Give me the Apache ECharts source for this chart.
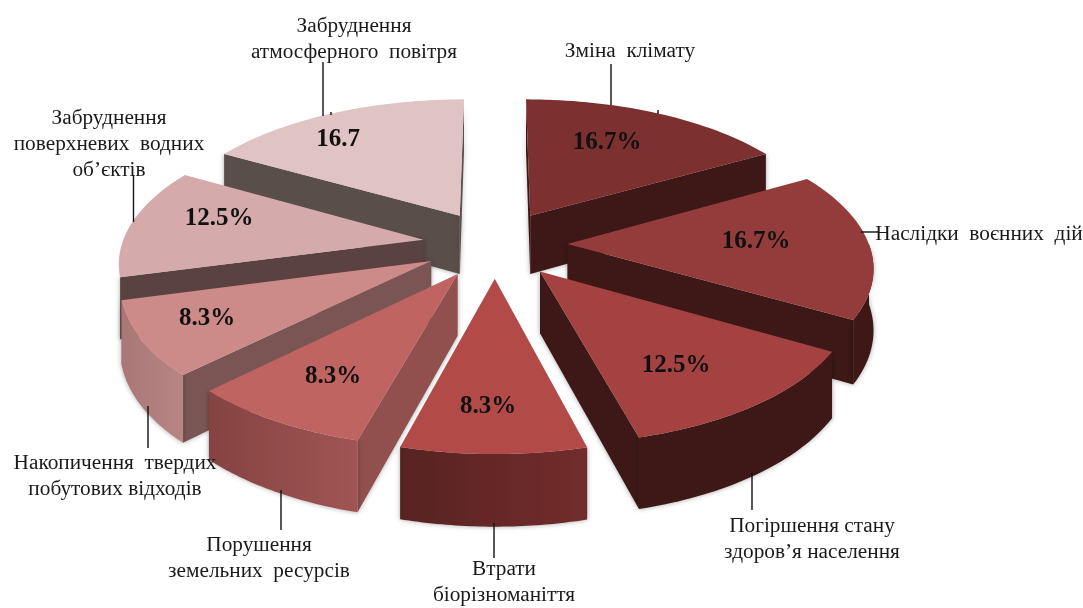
<!DOCTYPE html>
<html>
<head>
<meta charset="utf-8">
<style>
  html, body { margin: 0; background: #fff; }
  #chart { width: 1083px; height: 608px; }
</style>
</head>
<body>
<div id="chart"></div>
<script src="https://cdn.jsdelivr.net/npm/echarts@6/dist/echarts.min.js"></script>
<script>
const categories = [
  'Зміна  клімату',
  'Наслідки  воєнних  дій',
  'Погіршення стану\nздоров’я населення',
  'Втрати\nбіорізноманіття',
  'Порушення\nземельних  ресурсів',
  'Накопичення  твердих\nпобутових відходів',
  'Забруднення\nповерхневих  водних\nоб’єктів',
  'Забруднення\nатмосферного  повітря',
];
const values = [16.7, 16.7, 12.5, 8.3, 8.3, 8.3, 12.5, 16.7];
const valueLabels = ['16.7%', '16.7%', '12.5%', '8.3%', '8.3%', '8.3%', '12.5%', '16.7'];

// кольори секторів: верх, радіальні стінки, зовнішня стінка (зліва, справа)
const topColors = ['#7c3030', '#943c3b', '#a34241', '#b24b48', '#c06462', '#cc8b89', '#d4abaa', '#e0c3c3'];
const faceColors = ['#3d1816', '#3d1816', '#3d1816', '#3d1816', '#91504e', '#7a5554', '#5a4240', '#5a4e4b'];
const wallFrom = ['#3d1816', '#3d1816', '#3d1816', '#722c2b', '#a05554', '#b88583', null, null];
const wallTo = ['#3d1816', '#3d1816', '#3d1816', '#572322', '#854341', '#a87776', null, null];

// розташування підписів на сторінці (центр першого рядка)
const namePos = [[630, 51], [979, 234], [812, 526], [504, 569], [259, 545], [115, 463], [109, 118], [354, 26]];
const percentPos = [[607, 143], [756, 242], [676, 366], [488, 407], [333, 377], [207, 319], [219, 219], [338, 140]];
const leaders = [
  [[611, 64], [611, 105]],
  [[861, 232], [878, 232]],
  [[752, 473], [752, 510]],
  [[494, 523], [494, 558]],
  [[281, 490], [281, 530]],
  [[148, 406], [148, 448]],
  [[133.5, 175], [133.5, 222]],
  [[323, 62], [323, 116]],
  [[658, 110], [658, 114]],
  [[331, 112], [331, 115]],
];

// параметри перспективи
const CX = 495, CY = 244, RX = 301.5, RY = 140, PERSP = 0.14, EXPLODE = 0.24, DEPTH = 60;

const total = values.reduce((a, b) => a + b, 0);
const starts = [];
values.reduce((acc, v, i) => { starts[i] = acc; return acc + v / total * Math.PI * 2; }, 0);

function project(x, f, down) {
  const w = 1 - PERSP * f;
  return [CX + RX * x / w, CY + RY * f / w + (down ? DEPTH / w : 0)];
}

function renderWedge(params, api) {
  const i = api.value(0);
  const a = starts[i];
  const b = a + api.value(1) / total * Math.PI * 2;
  const mid = (a + b) / 2;
  const ox = EXPLODE * Math.sin(mid), of = -EXPLODE * Math.cos(mid);
  const pt = (t, down) => project(ox + Math.sin(t), of - Math.cos(t), down);
  const apex = project(ox, of, false);
  const apexDown = project(ox, of, true);

  const arc = [];
  for (let s = 0; s <= 40; s++) arc.push(a + (b - a) * s / 40);
  const topPts = [apex].concat(arc.map((t) => pt(t, false)));
  const midTop = pt(mid, false);
  const inner = [(apex[0] + midTop[0]) / 2, (apex[1] + midTop[1]) / 2];
  const children = [];
  const shadow = { shadowBlur: 5, shadowColor: 'rgba(0,0,0,0.35)' };

  // радіальна стінка видима, лише якщо сектор лежить вище за неї на екрані
  [a, b].forEach((t) => {
    const q = pt(t, false);
    const dx = q[0] - apex[0], dy = q[1] - apex[1];
    const side = dx * (inner[1] - apex[1]) - dy * (inner[0] - apex[0]);
    if (side * dx < 0) {
      children.push({
        type: 'polygon',
        shape: { points: [apex, q, pt(t, true), apexDown] },
        style: Object.assign({ fill: faceColors[i] }, shadow),
      });
    }
  });

  // зовнішня стінка - частина дуги, повернута до глядача
  const front = arc.filter((t) => Math.cos(t) < 0);
  if (front.length > 1 && wallFrom[i]) {
    const upper = front.map((t) => pt(t, false));
    const lower = front.map((t) => pt(t, true)).reverse();
    const xs = upper.map((p) => p[0]);
    children.push({
      type: 'polygon',
      shape: { points: upper.concat(lower) },
      style: Object.assign({
        fill: new echarts.graphic.LinearGradient(Math.min.apply(null, xs), 0, Math.max.apply(null, xs), 0, [
          { offset: 0, color: xs[0] < xs[xs.length - 1] ? wallFrom[i] : wallTo[i] },
          { offset: 1, color: xs[0] < xs[xs.length - 1] ? wallTo[i] : wallFrom[i] },
        ], true),
      }, shadow),
    });
  }

  children.push({ type: 'polygon', shape: { points: topPts }, style: { fill: topColors[i] } });
  return { type: 'group', children: children };
}

// малюємо від дальніх секторів до ближніх
const drawOrder = values
  .map((v, i) => [i, v])
  .sort((p, q) => {
    const mp = starts[p[0]] + p[1] / total * Math.PI;
    const mq = starts[q[0]] + q[1] / total * Math.PI;
    return Math.cos(mq) - Math.cos(mp);
  });

const serif = '"Liberation Serif", "Times New Roman", serif';
const LINE_H = 26;
const graphics = [];
leaders.forEach((l) => {
  graphics.push({
    type: 'line', z: 20,
    shape: { x1: l[0][0], y1: l[0][1], x2: l[1][0], y2: l[1][1] },
    style: { stroke: '#111', lineWidth: 1.4 },
  });
});
categories.forEach((name, i) => {
  graphics.push({
    type: 'text', z: 21, x: namePos[i][0], y: namePos[i][1] - LINE_H / 2,
    style: {
      text: name, fill: '#1a1a1a', font: '21.3px ' + serif, lineHeight: LINE_H,
      align: 'center', verticalAlign: 'top',
    },
  });
});
valueLabels.forEach((txt, i) => {
  graphics.push({
    type: 'text', z: 22, x: percentPos[i][0], y: percentPos[i][1],
    style: {
      text: txt, fill: '#111', font: 'bold 25px ' + serif,
      align: 'center', verticalAlign: 'middle',
    },
  });
});

const myChart = echarts.init(document.getElementById('chart'), null, { renderer: 'canvas' });
myChart.setOption({
  animation: false,
  backgroundColor: '#fff',
  graphic: graphics,
  series: [{
    type: 'custom',
    coordinateSystem: 'none',
    renderItem: renderWedge,
    data: drawOrder,
    silent: true,
  }],
});
</script>
</body>
</html>
